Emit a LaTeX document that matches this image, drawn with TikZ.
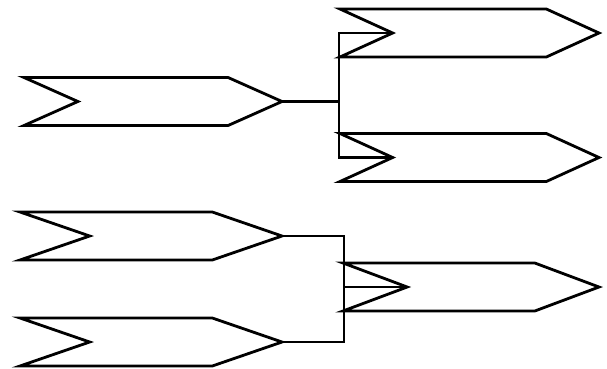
\documentclass[tikz,border=0pt]{standalone}
\usetikzlibrary{positioning, calc, shapes, shapes.symbols}

\tikzset{
  flag/.style={signal, signal from=west, signal to=east, draw, line width=2.8pt,
    inner sep=0pt, outer sep=0pt, minimum height=48pt},
  wire/.style={line width=2.4pt}
}

\begin{document}
\begin{tikzpicture}[x=1pt,y=-1pt]
  \useasboundingbox (0,0) rectangle (607,368);
  % top: one flag splits into two
  \node[flag, minimum width=258pt, signal pointer angle=48] (src) at (153,101.5) {};
  \node[flag, minimum width=259pt, signal pointer angle=49] (upper) at (469.5,33) {};
  \node[flag, minimum width=259pt, signal pointer angle=49] (lower) at (469.5,157.5) {};
  \coordinate (split) at (339,101.5);
  \draw[wire] (src.east) -- (split);
  \draw[wire] (upper.west) -| (split) |- (lower.west);
  % bottom: two flags merge into one
  \node[flag, minimum width=262pt, signal pointer angle=38] (inA) at (151,236) {};
  \node[flag, minimum width=262pt, signal pointer angle=38] (inB) at (151,342) {};
  \node[flag, minimum width=256pt, signal pointer angle=41] (out) at (471,287) {};
  \coordinate (merge) at (344,287);
  \draw[wire] (inA.east) -| (merge) |- (inB.east);
  \draw[wire] (merge) -- (out.west);
\end{tikzpicture}
\end{document}
